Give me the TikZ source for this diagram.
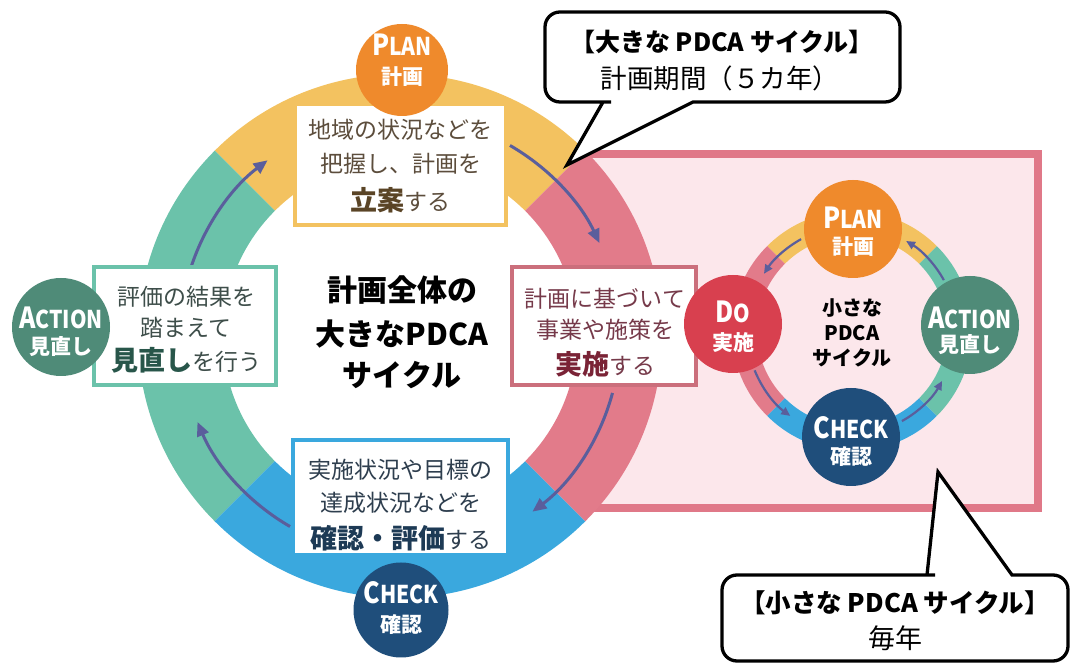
\documentclass[tikz,border=0pt]{standalone}
\usepackage{fontspec}
\usepackage{graphicx}
\usetikzlibrary{arrows.meta}
\newfontfamily\jp{Noto Sans CJK JP}
\definecolor{ringY}{HTML}{F3C260}
\definecolor{ringT}{HTML}{6BC2AA}
\definecolor{ringB}{HTML}{3AA8DE}
\definecolor{ringP}{HTML}{E27B8A}
\definecolor{rectfill}{HTML}{FCE7EB}
\definecolor{rectline}{HTML}{E07888}
\definecolor{cPlan}{HTML}{EF8A2C}
\definecolor{cDo}{HTML}{D8404F}
\definecolor{cCheck}{HTML}{1F4E7B}
\definecolor{cAct}{HTML}{4F8B78}
\definecolor{arr}{HTML}{5A5E9C}
\definecolor{txP}{HTML}{5C4D3C}
\definecolor{txPb}{HTML}{5A4426}
\definecolor{txA}{HTML}{3E4E4A}
\definecolor{txAb}{HTML}{28564A}
\definecolor{txD}{HTML}{763A4A}
\definecolor{txDb}{HTML}{7A2336}
\definecolor{txC}{HTML}{2E3E4E}
\definecolor{txCb}{HTML}{1D3A55}
\newcommand\fs[1]{\fontsize{#1}{#1}\selectfont}
\newcommand\pdcacap[2]{{\jp\bfseries\scalebox{0.86}[1]{\fs{29}#1\fs{24.5}#2}}}
\begin{document}
\begin{tikzpicture}[x=1pt,y=1pt,
  box/.style={draw, line width=4.5pt, fill=white, inner sep=0pt},
  jtext/.style={inner sep=0pt, font=\jp\fs{23}},
  circ/.style={circle, inner sep=0pt, minimum size=98pt},
  ctl/.style={inner sep=0pt, text=white},
  cjp/.style={inner sep=0pt, text=white, font=\jp\bfseries\fs{21}},
  bigarrow/.style={draw=arr, line width=3pt, -{Triangle[length=14pt,width=12pt]}},
  smallarrow/.style={draw=arr, line width=2.2pt, -{Triangle[length=9pt,width=8pt]}},
  bubble/.style={draw=black, line width=3.3pt, fill=white},
  bubtext/.style={inner sep=0pt, text=black},
]
\useasboundingbox (0,0) rectangle (1070,663);
\fill[white] (0,0) rectangle (1070,663);

% pink rectangle of the small cycle
\draw[draw=rectline, fill=rectfill, line width=8pt] (584,509) rectangle (1038,155);

% big ring
\begin{scope}[shift={(400,327)}]
 \fill[ringY] (45:262pt) arc[start angle=45,end angle=135,radius=262pt] -- (135:177pt) arc[start angle=135,end angle=45,radius=177pt] -- cycle;
 \fill[ringT] (135:262pt) arc[start angle=135,end angle=225,radius=262pt] -- (225:177pt) arc[start angle=225,end angle=135,radius=177pt] -- cycle;
 \fill[ringB] (225:262pt) arc[start angle=225,end angle=315,radius=262pt] -- (315:177pt) arc[start angle=315,end angle=225,radius=177pt] -- cycle;
 \fill[ringP] (-45:262pt) arc[start angle=-45,end angle=45,radius=262pt] -- (45:177pt) arc[start angle=45,end angle=-45,radius=177pt] -- cycle;
 \coordinate (ba1) at (60:220pt);
 \coordinate (ba2) at (-15:220pt);
 \coordinate (ba3) at (240:220pt);
 \coordinate (ba4) at (163:220pt);
\end{scope}
\draw[bigarrow] (ba1) arc[start angle=60,end angle=25,radius=220pt];
\draw[bigarrow] (ba2) arc[start angle=-15,end angle=-53,radius=220pt];
\draw[bigarrow] (ba3) arc[start angle=240,end angle=203,radius=220pt];
\draw[bigarrow] (ba4) arc[start angle=163,end angle=127,radius=220pt];

% boxes
\node[box, draw=ringY, minimum width=211pt, minimum height=121pt] (planbox) at (400.5,498.5) {};
\node[box, draw=ringT, minimum width=182pt, minimum height=118pt] (actbox) at (185,337) {};
\node[box, draw=ringP!90!black, minimum width=184pt, minimum height=118pt] (dobox) at (604,337) {};
\node[box, draw=ringB, minimum width=215pt, minimum height=115pt] (checkbox) at (400.5,165.5) {};

\node[jtext, text=txP] (pt1) at (400.5,533) {地域の状況などを};
\node[jtext, text=txP] (pt2) at (400.5,499) {把握し、計画を};
\node[jtext, text=txP] (pt3) at (400.5,463) {{\bfseries\fs{27}\color{txPb}立案}する};

\node[jtext, text=txA] (at1) at (186,366) {評価の結果を};
\node[jtext, text=txA] (at2) at (186,335) {踏まえて};
\node[jtext, text=txA] (at3) at (186,303) {{\bfseries\fs{27}\color{txAb}見直し}を行う};

\node[jtext, text=txD] (dt1) at (605,364) {計画に基づいて};
\node[jtext, text=txD] (dt2) at (605,333) {事業や施策を};
\node[jtext, text=txD] (dt3) at (605,299) {{\bfseries\fs{27}\color{txDb}実施}する};

\node[jtext, text=txC] (ct1) at (400.5,193) {実施状況や目標の};
\node[jtext, text=txC] (ct2) at (400.5,160) {達成状況などを};
\node[jtext, text=txC] (ct3) at (400.5,125) {{\bfseries\fs{27}\color{txCb}確認・評価}する};

% big circles
\node[circ, fill=cPlan, minimum size=92pt] (bigplan) at (402,593) {};
\node[ctl] (bigplanA) at (402,618) {\pdcacap{P}{LAN}};
\node[cjp] (bigplanB) at (402,586) {計画};

\node[circ, fill=cAct] (bigact) at (61,336) {};
\node[ctl] (bigactA) at (61,345) {\pdcacap{A}{CTION}};
\node[cjp] (bigactB) at (61,316) {見直し};

\node[circ, fill=cCheck, minimum size=95pt] (bigcheck) at (401,53) {};
\node[ctl] (bigcheckA) at (401,70) {\pdcacap{C}{HECK}};
\node[cjp] (bigcheckB) at (401,38) {確認};

% centre text
\node[inner sep=0pt, font=\jp\bfseries\fs{30}, text=black] (cen1) at (402,373) {計画全体の};
\node[inner sep=0pt, font=\jp\bfseries\fs{30}, text=black] (cen2) at (402,329) {大きなPDCA};
\node[inner sep=0pt, font=\jp\bfseries\fs{30}, text=black] (cen3) at (402,288) {サイクル};

% small ring
\begin{scope}[shift={(852,332)}]
 \fill[ringY] (45:120pt) arc[start angle=45,end angle=135,radius=120pt] -- (135:95pt) arc[start angle=135,end angle=45,radius=95pt] -- cycle;
 \fill[ringP] (135:120pt) arc[start angle=135,end angle=225,radius=120pt] -- (225:95pt) arc[start angle=225,end angle=135,radius=95pt] -- cycle;
 \fill[ringB] (225:120pt) arc[start angle=225,end angle=315,radius=120pt] -- (315:95pt) arc[start angle=315,end angle=225,radius=95pt] -- cycle;
 \fill[ringT] (-45:120pt) arc[start angle=-45,end angle=45,radius=120pt] -- (45:95pt) arc[start angle=45,end angle=-45,radius=95pt] -- cycle;
 \coordinate (sa1) at (119:105pt);
 \coordinate (sa2) at (202:105pt);
 \coordinate (sa3) at (299:103pt);
 \coordinate (sa4) at (29:105pt);
\end{scope}
\draw[smallarrow] (sa1) arc[start angle=119,end angle=147,radius=105pt];
\draw[smallarrow] (sa2) arc[start angle=202,end angle=234,radius=105pt];
\draw[smallarrow] (sa3) arc[start angle=299,end angle=331,radius=103pt];
\draw[smallarrow] (sa4) arc[start angle=29,end angle=59,radius=105pt];

\node[circ, fill=cPlan] (smplan) at (853,434) {};
\node[ctl] (smplanA) at (853,445) {\pdcacap{P}{LAN}};
\node[cjp] (smplanB) at (853,416) {計画};

\node[circ, fill=cDo] (smdo) at (733,339) {};
\node[ctl] (smdoA) at (733,351) {\pdcacap{D}{O}};
\node[cjp] (smdoB) at (733,320) {実施};

\node[circ, fill=cAct] (smact) at (970,338) {};
\node[ctl] (smactA) at (970,345) {\pdcacap{A}{CTION}};
\node[cjp] (smactB) at (970,318) {見直し};

\node[circ, fill=cCheck] (smcheck) at (851,226) {};
\node[ctl] (smcheckA) at (851,235) {\pdcacap{C}{HECK}};
\node[cjp] (smcheckB) at (851,206) {確認};

\node[inner sep=0pt, font=\jp\bfseries\fs{20}, text=black] (sc1) at (852,355) {小さな};
\node[inner sep=0pt, font=\jp\bfseries\fs{20}, text=black] (sc2) at (852,330) {PDCA};
\node[inner sep=0pt, font=\jp\bfseries\fs{20}, text=black] (sc3) at (852,305) {サイクル};

% speech bubbles
\draw[bubble] (603,561) -- (567,498) -- (693,561) -- (700,561) [rounded corners=15pt] -- (900,561) -- (900,651) -- (545,651) -- (545,561) -- (596,561) [sharp corners] -- cycle;
\node[bubtext, font=\jp\bfseries\fs{25}] (bb1) at (722,621) {【大きな PDCA サイクル】};
\node[bubtext, font=\jp\fs{26.5}] (bb2) at (720,585) {計画期間（５カ年）};

\draw[bubble] (927,88) -- (938,191) -- (1012,88) -- (1020,88) [rounded corners=15pt] -- (1068,88) -- (1068,2) -- (722,2) -- (722,88) -- (920,88) [sharp corners] -- cycle;
\node[bubtext, font=\jp\bfseries\fs{25.5}] (sb1) at (895,60) {【小さな PDCA サイクル】};
\node[bubtext, font=\jp\fs{27}] (sb2) at (895,25) {毎年};
\end{tikzpicture}
\end{document}
